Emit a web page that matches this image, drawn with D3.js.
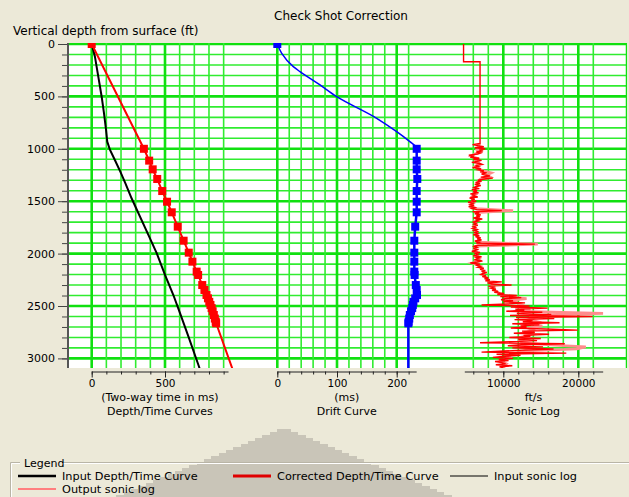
<!DOCTYPE html>
<html>
<head>
<meta charset="utf-8">
<script src="https://cdn.jsdelivr.net/npm/d3@7"></script>
<style>
  html, body { margin: 0; padding: 0; background: #ece9d8; }
  svg { display: block; font-family: "DejaVu Sans", Verdana, sans-serif; }
</style>
</head>
<body>
<svg id="chart" width="629" height="497"></svg>
<script>
// ---------- data ----------
// depth ticks on the shared vertical axis (ft)
const depthTicks = [0, 500, 1000, 1500, 2000, 2500, 3000];

// input depth/time curve: [depth ft, two-way time ms]
const inputDepthTime = [
  [0, 0], [121, 22], [312, 45], [503, 68], [662, 84], [821, 98], [932, 106],
  [1011, 125], [1107, 158], [1202, 190], [1329, 230], [1472, 272], [1838, 392],
  [1998, 444], [2204, 500], [2395, 557], [2570, 603], [2793, 660], [3063, 728], [3100, 737]
];

// check shot depths (ft) and the corrected two-way times (ms)
const checkDepths = [1000, 1113, 1196, 1288, 1403, 1505, 1606, 1743, 1877, 1991, 2077, 2172,
  2204, 2300, 2347, 2395, 2427, 2460, 2490, 2520, 2550, 2586, 2620, 2650, 2665];
const correctedTimes = [356, 392, 416, 447, 481, 514, 546, 587, 627, 662, 687, 716,
  726, 754, 769, 783, 793, 802, 810, 818, 825, 833, 840, 846, 849];
// drift (ms) at each check shot
const checkDrift = [233.5, 233.5, 233.5, 234.5, 233.5, 233.5, 233.5, 231, 229.5, 229.5, 229.5, 229.5,
  230, 232, 233.5, 234, 231, 228, 227, 226, 224, 222, 221, 220, 219.5];

// corrected curve end points outside the check shots
const correctedTop = [0, 0];
const correctedBottom = [3100, 960];

// drift curve above the first check shot: [depth ft, drift ms]
const driftUpper = [[0, 0], [89, 7.4], [216, 26.8], [264, 38], [391, 71.5], [503, 99.5],
  [709, 166.5], [837, 200], [932, 222], [980, 232], [1000, 233.5]];
const driftBottom = [3100, 219.5];

// sonic log above the logged interval: [depth ft, velocity ft/s]
const sonicTop = [[0, 4700], [170, 4700], [170, 6900], [950, 6900]];

// input sonic log, sampled every 10 ft from 950 ft
const sonicStart = 950, sonicStep = 10;
const sonicValues = [
  6900, 5900, 6600, 7400, 6200, 7600, 6800, 7300, 6400, 7000,
  6600, 5400, 6100, 5600, 6800, 6000, 7100, 6500, 5800, 6900,
  7200, 6300, 6700, 5900, 7000, 6600, 7400, 6900, 7800, 7100,
  7600, 8200, 7000, 8600, 7300, 6600, 7100, 6300, 6900, 6200,
  7000, 6400, 6100, 6800, 5800, 6500, 6000, 6700, 5600, 6300,
  5900, 6600, 5500, 6200, 5700, 6400, 5300, 6000, 5600, 6100,
  5400, 6200, 5800, 6500, 9800, 5900, 6800, 6200, 7000, 6400,
  6900, 6000, 7200, 6300, 6700, 5900, 6400, 6100, 6600, 6000,
  6300, 5900, 6500, 6100, 6700, 6200, 6600, 6000, 6800, 6300,
  7000, 6500, 7100, 6200, 6800, 6400, 14200, 6600, 6100, 6500,
  6000, 6700, 6200, 5800, 6900, 6300, 6600, 6000, 7100, 6400,
  6800, 6100, 7200, 6500, 5600, 6900, 6300, 7000, 6600, 7400,
  6900, 7600, 7100, 7800, 7300, 7000, 7700, 7200, 8000, 7500,
  8200, 7600, 9800, 7900, 8400, 11100, 8000, 8700, 8300, 9000,
  8500, 9300, 8800, 10100, 9200, 11800, 9600, 12400, 10200, 9700,
  11300, 10000, 12900, 10600, 7100, 13500, 11000, 15900, 11600, 12800,
  10400, 15200, 11800, 16400, 10900, 21900, 11700, 16800, 11500, 13900,
  12600, 17500, 11200, 14800, 12300, 13100, 11000, 15600, 19900, 12500,
  14200, 11400, 16100, 12700, 13600, 10800, 15000, 12000, 14500, 11300,
  6900, 18200, 12400, 10600, 15300, 11200, 16700, 13000, 10100, 7100,
  18400, 9100, 12300, 10200, 8600, 11300, 9400, 10700, 8900, 9800,
  10300, 9000, 11200, 9500, 10000
];

// output sonic log, sampled every 20 ft from 950 ft
const outStart = 950, outStep = 20;
const outputSonicValues = [
  6900, 6600, 7000, 6500, 6900, 6200, 5700, 6500, 6300, 6700,
  6600, 6200, 6800, 7300, 8400, 7800, 8300, 6900, 6700, 6500,
  6600, 6300, 6100, 6300, 6000, 6100, 5800, 6000, 5800, 5900,
  5600, 6400, 11300, 6400, 6700, 6500, 6800, 6200, 6300, 6200,
  6100, 6300, 6400, 6500, 6400, 6800, 6700, 6600, 14600, 6300,
  6300, 6100, 6500, 6400, 6700, 6500, 6900, 5800, 6700, 6900,
  7200, 7400, 7300, 7400, 7700, 7900, 8100, 8400, 8600, 8800,
  8900, 9300, 9600, 10300, 13100, 10600, 11800, 12500, 12000, 13600,
  12400, 23300, 13500, 14200, 13400, 14600, 13900, 15200, 13300, 14000,
  13100, 13900, 12800, 13500, 12200, 12500, 15800, 21000, 19800, 12800,
  11600, 10500, 10900, 10100, 9800, 10400, 10000, 10200
];

// axis ticks of the three tracks
const timeTicks = [0, 100, 200, 300, 400, 500, 600, 700, 800, 900];
const timeLabels = [0, 500];
const driftTicks = [0, 20, 40, 60, 80, 100, 120, 140, 160, 180, 200, 220];
const driftLabels = [0, 100, 200];
const sonicTicks = [6000, 8000, 10000, 12000, 14000, 16000, 18000, 20000, 22000];
const sonicLabels = [10000, 20000];

const legendItems = [
  { label: "Input Depth/Time Curve", color: "#000000", width: 2.5 },
  { label: "Corrected Depth/Time Curve", color: "#e00000", width: 3 },
  { label: "Input sonic log", color: "#000000", width: 1 },
  { label: "Output sonic log", color: "#ff7f7f", width: 2 }
];

// ---------- layout ----------
const svg = d3.select("#chart");
const plot = { left: 68, right: 627, top: 43, bottom: 368 };
const axisY = 371.5;

const y = d3.scaleLinear().domain([0, 3000]).range([44, 358.4]);
const xTime = d3.scaleLinear().domain([0, 500]).range([91.7, 165]);
const xDrift = d3.scaleLinear().domain([0, 200]).range([277.3, 396.7]);
const xSonic = d3.scaleLinear().domain([10000, 20000]).range([503.3, 578.3]);

const GRID = "#10e010";
const GRID_MINOR = "#30ec30";

// stepped grey shape in the lower window background
const shade = svg.append("g");
const shadeSteps = d3.range(0, 24);
shade.selectAll("rect").data(shadeSteps).join("rect")
  .attr("x", k => 284 - (7 + k * 7.3))
  .attr("y", k => 429 + k * 3)
  .attr("width", k => 2 * (7 + k * 7.3))
  .attr("height", 3.2)
  .attr("fill", "#c9c5b8")
  .attr("shape-rendering", "crispEdges");

// title
svg.append("text").attr("x", 341).attr("y", 20).attr("text-anchor", "middle")
  .attr("font-size", 12).attr("fill", "#000").text("Check Shot Correction");
svg.append("text").attr("x", 13).attr("y", 35)
  .attr("font-size", 12).attr("fill", "#000").text("Vertical depth from surface (ft)");

// plot background
svg.append("rect").attr("x", plot.left).attr("y", plot.top)
  .attr("width", plot.right - plot.left).attr("height", plot.bottom - plot.top)
  .attr("fill", "#ffffff");

svg.append("clipPath").attr("id", "plotClip").append("rect")
  .attr("x", plot.left).attr("y", plot.top)
  .attr("width", plot.right - plot.left).attr("height", plot.bottom - plot.top);

// grid
const grid = svg.append("g").attr("clip-path", "url(#plotClip)");
const depthGrid = d3.range(0, 3001, 100);
grid.selectAll("line.h").data(depthGrid).join("line").attr("class", "h")
  .attr("x1", plot.left).attr("x2", plot.right)
  .attr("y1", d => y(d)).attr("y2", d => y(d))
  .attr("stroke", d => d % 500 === 0 ? GRID : GRID_MINOR)
  .attr("stroke-width", d => d % 500 === 0 ? 2.6 : 1.6);

function vGrid(ticks, scale, isMajor) {
  grid.append("g").selectAll("line").data(ticks).join("line")
    .attr("x1", d => scale(d)).attr("x2", d => scale(d))
    .attr("y1", plot.top).attr("y2", plot.bottom)
    .attr("stroke", d => isMajor(d) ? GRID : GRID_MINOR)
    .attr("stroke-width", d => isMajor(d) ? 2.6 : 1.6);
}
vGrid(timeTicks, xTime, d => d % 500 === 0);
vGrid(driftTicks, xDrift, d => d % 100 === 0);
vGrid(sonicTicks, xSonic, d => d % 10000 === 0);

// right border
grid.append("line").attr("x1", plot.right - 0.5).attr("x2", plot.right - 0.5)
  .attr("y1", plot.top).attr("y2", plot.bottom).attr("stroke", GRID).attr("stroke-width", 1.5);

// ---------- curves ----------
const g = svg.append("g").attr("clip-path", "url(#plotClip)");

// track 1: depth/time
const inputLine = d3.line().x(d => xTime(d[1])).y(d => y(d[0]));
g.append("path").datum(inputDepthTime).attr("d", inputLine)
  .attr("fill", "none").attr("stroke", "#000").attr("stroke-width", 2);

const correctedPts = [correctedTop].concat(checkDepths.map((d, i) => [d, correctedTimes[i]]), [correctedBottom]);
g.append("path").datum(correctedPts).attr("d", inputLine)
  .attr("fill", "none").attr("stroke", "#ff0000").attr("stroke-width", 2);

const sq = 8;
const correctedMarks = [correctedTop].concat(checkDepths.map((d, i) => [d, correctedTimes[i]]));
g.append("g").selectAll("rect").data(correctedMarks).join("rect")
  .attr("x", d => xTime(d[1]) - sq / 2).attr("y", d => y(d[0]) - sq / 2)
  .attr("width", sq).attr("height", sq).attr("fill", "#ff0000");

// track 2: drift
const driftLine = d3.line().x(d => xDrift(d[1])).y(d => y(d[0]));
g.append("path").datum(driftUpper).attr("d", driftLine.curve(d3.curveMonotoneY))
  .attr("fill", "none").attr("stroke", "#0000ff").attr("stroke-width", 1.5);
const driftChecks = checkDepths.map((d, i) => [d, checkDrift[i]]);
g.append("path").datum(driftChecks.concat([driftBottom]))
  .attr("d", d3.line().x(d => xDrift(d[1])).y(d => y(d[0])))
  .attr("fill", "none").attr("stroke", "#0000ff").attr("stroke-width", 2.5);
g.append("g").selectAll("rect").data([[0, 0]].concat(driftChecks)).join("rect")
  .attr("x", d => xDrift(d[1]) - sq / 2).attr("y", d => y(d[0]) - sq / 2)
  .attr("width", sq).attr("height", sq).attr("fill", "#0000ff");

// track 3: sonic log
const sonicLine = d3.line().x(d => xSonic(d[1])).y(d => y(d[0]));
const outputPts = outputSonicValues.map((v, i) => [outStart + i * outStep, v]);
g.append("path").datum(outputPts).attr("d", sonicLine)
  .attr("fill", "none").attr("stroke", "#ff8c8c").attr("stroke-width", 2.6);
const sonicPts = sonicValues.map((v, i) => [sonicStart + i * sonicStep, v]);
g.append("path").datum(sonicTop.concat(sonicPts)).attr("d", sonicLine)
  .attr("fill", "none").attr("stroke", "#ff0000").attr("stroke-width", 1.4);

// ---------- axes ----------
// vertical depth axis
const leftAxis = svg.append("g");
leftAxis.append("g").attr("transform", `translate(${plot.left},0)`)
  .call(d3.axisLeft(y).tickValues(d3.range(0, 3001, 100)).tickSize(6).tickFormat(""))
  .call(a => a.select(".domain").remove())
  .call(a => a.selectAll("line").attr("stroke", "#444"));
leftAxis.append("g").attr("transform", `translate(${plot.left},0)`)
  .call(d3.axisLeft(y).tickValues(depthTicks).tickSize(10).tickPadding(3).tickFormat(d3.format("d")))
  .call(a => a.select(".domain").remove())
  .call(a => a.selectAll("line").attr("stroke", "#444"))
  .call(a => a.selectAll("text").attr("font-size", 11).attr("font-family", "DejaVu Sans").attr("fill", "#000"));
leftAxis.append("line").attr("x1", plot.left).attr("x2", plot.left)
  .attr("y1", plot.top).attr("y2", plot.bottom).attr("stroke", "#555").attr("stroke-width", 2);

// bottom axes of the three tracks
function trackAxis(scale, extent, minor, major, line1, line2) {
  const s = scale.copy().domain(extent).range(extent.map(scale));
  const a = svg.append("g").attr("transform", `translate(0,${axisY})`);
  a.append("g").call(d3.axisBottom(s).tickValues(minor).tickSize(3).tickSizeOuter(0).tickFormat(""))
    .call(ax => ax.select(".domain").attr("stroke", "#222").attr("stroke-width", 1.2))
    .call(ax => ax.selectAll("line").attr("stroke", "#222"));
  a.append("g").call(d3.axisBottom(s).tickValues(major).tickSize(6).tickPadding(2).tickSizeOuter(0).tickFormat(d3.format("d")))
    .call(ax => ax.select(".domain").remove())
    .call(ax => ax.selectAll("line").attr("stroke", "#222"))
    .call(ax => ax.selectAll("text").attr("font-size", 10.5).attr("font-family", "DejaVu Sans").attr("fill", "#000"));
  const cx = (scale(extent[0]) + scale(extent[1])) / 2;
  svg.append("text").attr("x", cx).attr("y", 401).attr("text-anchor", "middle")
    .attr("font-size", 11).attr("fill", "#000").text(line1);
  svg.append("text").attr("x", cx).attr("y", 414.5).attr("text-anchor", "middle")
    .attr("font-size", 11).attr("fill", "#000").text(line2);
}
trackAxis(xTime, [0, 930], timeTicks, timeLabels, "(Two-way time in ms)", "Depth/Time Curves");
trackAxis(xDrift, [0, 232.6], driftTicks, driftLabels, "(ms)", "Drift Curve");
trackAxis(xSonic, [4800, 23250], sonicTicks, sonicLabels, "ft/s", "Sonic Log");

// ---------- legend ----------
const lg = svg.append("g");
const boxTop = 462.5;
[["#b9b5a6", 0], ["#ffffff", 1]].forEach(([c, o]) => {
  lg.append("path")
    .attr("d", `M${10.5 + o},497 V${boxTop + o} H20 M62,${boxTop + o} H629`)
    .attr("fill", "none").attr("stroke", c).attr("stroke-width", 1);
});
lg.append("text").attr("x", 24).attr("y", 466.5).attr("font-size", 11).attr("fill", "#000").text("Legend");

const legendPos = [
  { x: 18, y: 476 }, { x: 233, y: 476 }, { x: 450, y: 476 }, { x: 18, y: 489 }
];
const items = lg.selectAll("g.item").data(legendItems).join("g").attr("class", "item")
  .attr("transform", (d, i) => `translate(${legendPos[i].x},${legendPos[i].y})`);
items.append("line").attr("x1", 0).attr("x2", 38).attr("y1", 0).attr("y2", 0)
  .attr("stroke", d => d.color).attr("stroke-width", d => d.width);
items.append("text").attr("x", 44).attr("y", 4).attr("font-size", 11.3).attr("fill", "#000")
  .text(d => d.label);
</script>
</body>
</html>
